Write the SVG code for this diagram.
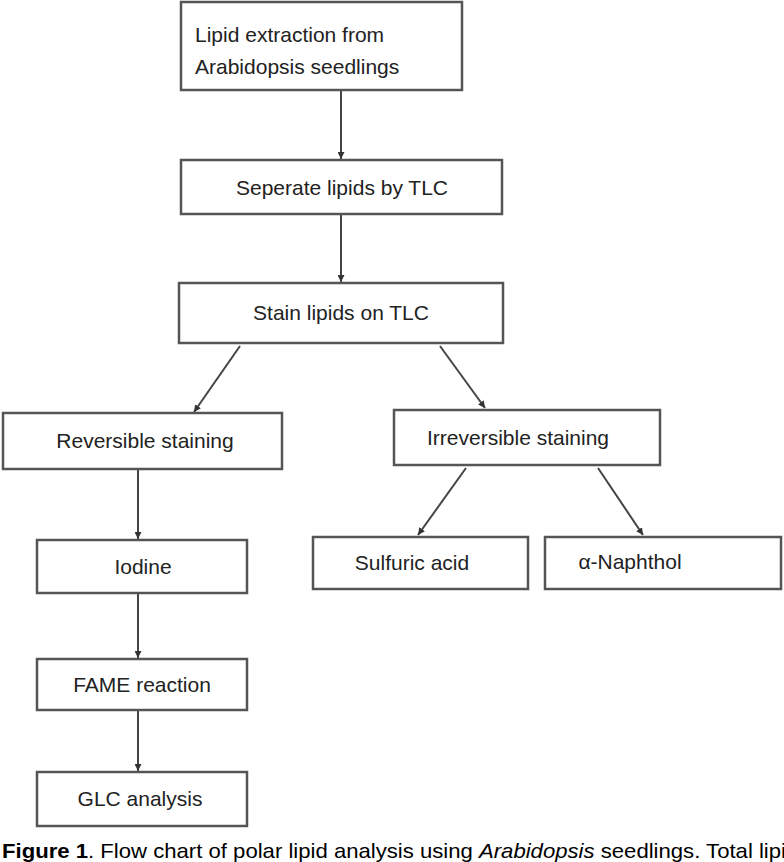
<svg xmlns="http://www.w3.org/2000/svg" width="784" height="862" viewBox="0 0 784 862">
<style>
.b{fill:#fff;stroke:#555;stroke-width:2.5}
.t{font-family:"Liberation Sans",Arial,sans-serif;font-size:21px;fill:#222}
.c{text-anchor:middle}
.e{stroke:#444;stroke-width:2;fill:none;marker-end:url(#a)}
.cap{font-family:"Liberation Sans",Arial,sans-serif;font-size:21px;fill:#000}
</style>
<defs><marker id="a" viewBox="0 0 10 10" refX="10" refY="5" markerWidth="7" markerHeight="7" orient="auto" markerUnits="userSpaceOnUse" ><path d="M0,0L10,5L0,10z" fill="#333"/></marker></defs>
<rect width="784" height="862" fill="#fff"/>
<g id="connectors">
<line class="e" x1="341" y1="90" x2="341" y2="159"/>
<line class="e" x1="341" y1="214" x2="341" y2="282"/>
<line class="e" x1="240" y1="346" x2="194" y2="412"/>
<line class="e" x1="440" y1="346" x2="485" y2="408"/>
<line class="e" x1="138" y1="469" x2="138" y2="539"/>
<line class="e" x1="466" y1="468" x2="418" y2="535"/>
<line class="e" x1="598" y1="468" x2="643" y2="535"/>
<line class="e" x1="138" y1="593" x2="138" y2="658"/>
<line class="e" x1="138" y1="710" x2="138" y2="771"/>
</g>
<g id="n1"><rect class="b" x="181" y="2" width="281" height="88"/><text class="t" x="195" y="42">Lipid extraction from</text><text class="t" x="195" y="74">Arabidopsis seedlings</text></g>
<g id="n2"><rect class="b" x="181" y="160" width="321" height="54"/><text class="t c" x="342" y="195">Seperate lipids by TLC</text></g>
<g id="n3"><rect class="b" x="179" y="283" width="324" height="60"/><text class="t c" x="341" y="320">Stain lipids on TLC</text></g>
<g id="n4"><rect class="b" x="3" y="413" width="279" height="56"/><text class="t c" x="145" y="448">Reversible staining</text></g>
<g id="n5"><rect class="b" x="394" y="410" width="266" height="55"/><text class="t c" x="518" y="445">Irreversible staining</text></g>
<g id="n6"><rect class="b" x="37" y="540" width="210" height="53"/><text class="t c" x="143" y="574">Iodine</text></g>
<g id="n7"><rect class="b" x="313" y="537" width="215" height="52"/><text class="t c" x="412" y="570">Sulfuric acid</text></g>
<g id="n8"><rect class="b" x="545" y="537" width="236" height="52"/><text class="t c" x="630" y="569">α-Naphthol</text></g>
<g id="n9"><rect class="b" x="37" y="659" width="210" height="51"/><text class="t c" x="142" y="692">FAME reaction</text></g>
<g id="n10"><rect class="b" x="37" y="772" width="210" height="54"/><text class="t c" x="140" y="806">GLC analysis</text></g>
<text class="cap" x="2" y="858" textLength="784" lengthAdjust="spacingAndGlyphs"><tspan font-weight="bold">Figure 1</tspan>. Flow chart of polar lipid analysis using <tspan font-style="italic">Arabidopsis</tspan> seedlings. Total lipi</text>
</svg>
